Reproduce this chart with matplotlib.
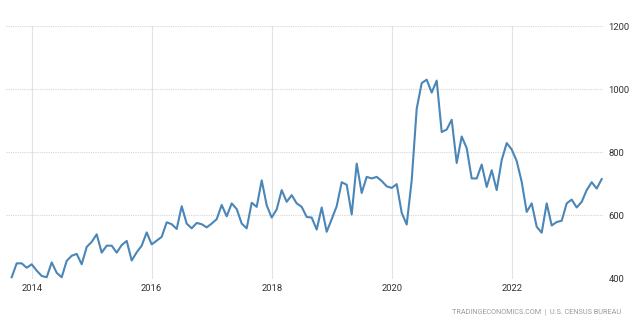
import numpy as np
import matplotlib
matplotlib.use("Agg")
import matplotlib.pyplot as plt

# US new home sales, thousands of units, monthly from Sep 2013 to Jul 2023
start_year, start_month = 2013, 9
sales = [
    404, 448, 448, 434,
    445, 425, 408, 404, 451, 418, 404, 456, 472, 478, 445, 500,
    516, 540, 482, 504, 504, 482, 506, 519, 457, 483, 504, 546,
    508, 520, 532, 578, 572, 557, 629, 574, 559, 576, 572, 562,
    574, 588, 633, 597, 638, 620, 574, 559, 640, 627, 711, 632,
    593, 619, 680, 643, 664, 638, 627, 595, 593, 555, 625, 548,
    588, 629, 705, 697, 603, 764, 671, 722, 717, 722, 709, 692,
    687, 699, 608, 571, 711, 938, 1019, 1030, 989, 1027, 864, 872,
    903, 766, 850, 813, 717, 717, 761, 690, 743, 680, 775, 829,
    809, 772, 706, 611, 638, 564, 545, 638, 568, 579, 583, 638,
    650, 625, 643, 680, 705, 685, 715,
]
year_ticks = [2014, 2016, 2018, 2020, 2022]
value_ticks = [400, 600, 800, 1000, 1200]

t = start_year + (start_month - 1 + np.arange(len(sales))) / 12.0

plt.rcParams["font.family"] = ["Roboto", "DejaVu Sans"]

fig = plt.figure(figsize=(6.4, 3.25), dpi=100)
ax = fig.add_axes([6 / 640, 46.5 / 325, 597 / 640, 252.5 / 325])

ax.plot(t, sales, color="#4a86b8", lw=1.5, solid_joinstyle="round")

ax.set_xlim(2014 - 5.14 / 12, 2014 + 114.26 / 12)
ax.set_ylim(400, 1200)
ax.set_xticks(year_ticks)
ax.set_xticklabels([str(y) for y in year_ticks])
ax.set_yticks(value_ticks)

ax.yaxis.tick_right()
ax.tick_params(axis="both", length=0, labelsize=6.8, colors="#333333")
ax.tick_params(axis="y", pad=4)
ax.tick_params(axis="x", pad=4)

ax.grid(axis="x", color="#e3e3e3", lw=0.8, ls="-")
ax.grid(axis="y", color="#d6d6d6", lw=0.8, ls=(0, (1, 1)))
ax.set_axisbelow(True)
for s in ax.spines.values():
    s.set_visible(False)

fig.text(621 / 640, 1 - 312 / 325, "TRADINGECONOMICS.COM  |  U.S. CENSUS BUREAU",
         ha="right", va="center", fontsize=5.2, color="#9a9a9a")

fig.savefig("out.png", dpi=100, facecolor="white")
